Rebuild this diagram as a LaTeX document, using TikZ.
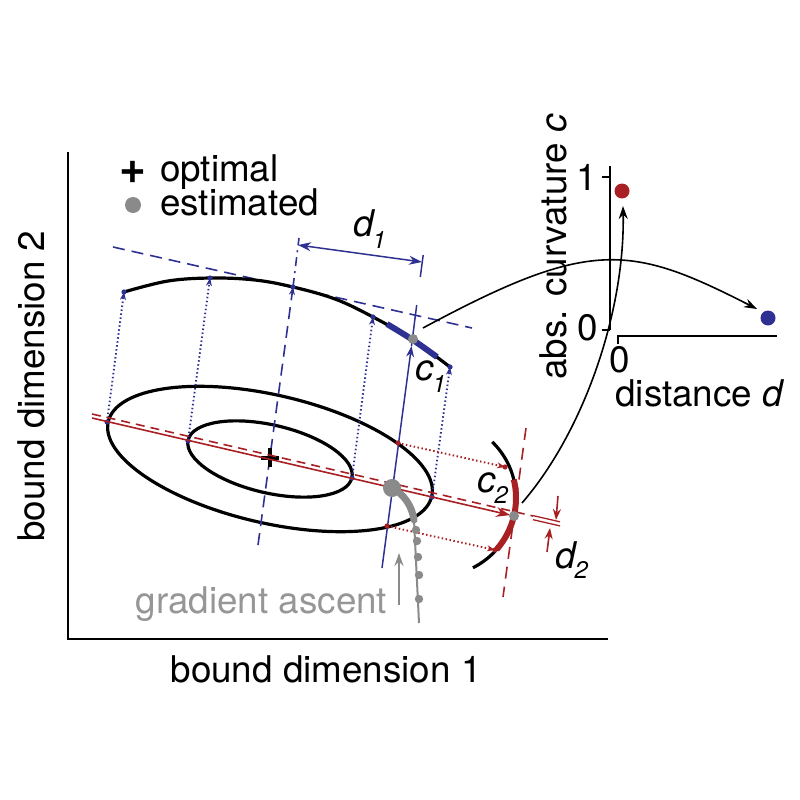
\documentclass[tikz,border=0pt]{standalone}
\usepackage{fontspec}
\setmainfont{TeX Gyre Heros}
\usetikzlibrary{arrows.meta}
\definecolor{myblue}{RGB}{46,49,146}
\definecolor{myred}{RGB}{168,32,36}
\definecolor{mygray}{RGB}{138,138,138}
\definecolor{txtgray}{RGB}{150,150,150}
\begin{document}
\begin{tikzpicture}[x=1pt,y=-1pt,
  lbl/.style={font=\fontsize{36.8}{40}\selectfont, inner sep=0pt},
  ell/.style={line width=3.2pt},
  axisline/.style={line width=2.2pt},
  bthin/.style={myblue, line width=1.5pt},
  bdotted/.style={myblue, line width=1.9pt, dash pattern=on 1.5pt off 2.5pt},
  rdotted/.style={myred, line width=1.9pt, dash pattern=on 1.5pt off 2.5pt},
  bdashed/.style={myblue, line width=1.6pt, dash pattern=on 12pt off 7pt},
  rdashed/.style={myred, line width=1.6pt, dash pattern=on 9pt off 6pt},
  smalltip/.style={-{Stealth[length=8pt,width=6pt]}},
  medtip/.style={-{Stealth[length=11pt,width=8pt]}},
]
\useasboundingbox (0,0) rectangle (800,800);

% ---------- axes ----------
\coordinate (axTop) at (68,152);
\coordinate (axO) at (68,639);
\coordinate (axR) at (608,639);
\draw[axisline] (axTop) -- (axO) -- (axR);
\node[lbl, anchor=base] (xlab) at (326,682) {bound dimension 1};
\node[lbl, anchor=base, rotate=90] (ylab) at (44,386) {bound dimension 2};

% ---------- legend ----------
\node[inner sep=0pt, font=\fontsize{46}{46}\selectfont\bfseries] (legplus) at (133,172) {+};
\node[lbl, anchor=base west] (legopt) at (160,181) {optimal};
\fill[mygray] (133,205) circle [radius=8];
\node[lbl, anchor=base west] (legest) at (160,215) {estimated};

% ---------- key points ----------
\coordinate (C) at (270,459);
\coordinate (oL) at (107,422);
\coordinate (iL) at (188,441);
\coordinate (iR) at (352,478);
\coordinate (oR) at (432,497);
\coordinate (t1) at (124,292);
\coordinate (t2) at (210,278);
\coordinate (t3) at (293,287);
\coordinate (t4) at (373,317);
\coordinate (t5) at (450,367);
\coordinate (est1) at (413,339);

% ---------- ellipses ----------
\draw[ell, rotate around={-13:(C)}] (C) ellipse [x radius=166, y radius=64];
\draw[ell, rotate around={-13:(C)}] (C) ellipse [x radius=84, y radius=34];

% ---------- top projected curve ----------
\draw[bdashed] (113,247) -- (472,328);
\draw[ell] plot[smooth, tension=0.6] coordinates {(124,292) (168,281) (212,278) (255,280) (293,287) (335,299) (373,317) (413,340) (450,367)};
\draw[myblue, line width=6pt] plot[smooth] coordinates {(387,324) (413,340) (437,357)};

% blue dotted projections
\draw[bdotted, smalltip] (oL) -- (t1);
\draw[bdotted, smalltip] (iL) -- (t2);
\draw[bdotted, smalltip] (iR) -- (t4);
\draw[bdotted, smalltip] (oR) -- (t5);
% centre dashed line
\coordinate (cB) at (258,545);
\coordinate (cT) at (299,238);
\draw[bdashed, smalltip] (cB) -- (t3);
\draw[myblue, line width=1.6pt, dash pattern=on 9pt off 5pt on 2pt off 5pt] (t3) -- (cT);

% centre marker (optimal)
\coordinate (pxL) at (261,458);
\coordinate (pxR) at (279,458);
\coordinate (pyT) at (270,448);
\coordinate (pyB) at (270,467);
\draw[line width=4.5pt] (pxL) -- (pxR);
\draw[line width=4.5pt] (pyT) -- (pyB);

% blue solid line through estimate
\coordinate (bB) at (382,568);
\coordinate (bTip) at (411.5,346);
\coordinate (bTop) at (416.7,305);
\coordinate (tkA) at (420.3,277);
\coordinate (tkB) at (423.2,255);
\draw[bthin, medtip] (bB) -- (bTip);
\draw[bthin] (bTip) -- (bTop);
\draw[bthin] (tkA) -- (tkB);

% d1 arrow
\coordinate (dL) at (298,245);
\coordinate (dR) at (422,262);
\draw[bthin, {Stealth[length=13pt,width=9pt]}-{Stealth[length=13pt,width=9pt]}] (dL) -- (dR);
\node[lbl, anchor=base west, font=\fontsize{36.8}{40}\selectfont\itshape] (d1lab) at (353,236) {d\kern-1pt\raisebox{-12pt}{\fontsize{24}{24}\selectfont 1}};

% blue dots
\foreach \p in {oL,iL,iR,oR,t1,t2,t3,t4,t5}
  \fill[myblue] (\p) circle [radius=2.6];
\fill[mygray] (est1) circle [radius=5];
\node[lbl, anchor=base west, font=\fontsize{36.8}{40}\selectfont\itshape] (c1lab) at (415,380) {c\kern-1pt\raisebox{-12pt}{\fontsize{24}{24}\selectfont 1}};

% ---------- red construction ----------
\coordinate (rS) at (92,418);
\coordinate (rSd) at (92,414);
\coordinate (gd) at (514,516);
\draw[myred, line width=1.6pt, -{Stealth[length=14pt,width=10pt]}, shorten >=4pt] (rS) -- (gd);
\draw[rdashed] (rSd) -- (533,516);
\coordinate (dbA1) at (533,515.6);
\coordinate (dbA2) at (560,521.8);
\coordinate (dbB1) at (533,519.7);
\coordinate (dbB2) at (560,525.9);
\draw[myred, line width=1.3pt] (dbA1) -- (dbA2);
\draw[myred, line width=1.3pt] (dbB1) -- (dbB2);

% red dotted projections
\coordinate (p1) at (398,443);
\coordinate (p2) at (387,526);
\coordinate (q1) at (505,467);
\coordinate (q2) at (495,550);
\draw[rdotted, smalltip] (p1) -- (q1);
\draw[rdotted, smalltip] (p2) -- (q2);

% right arc
\draw[ell] plot[domain=-46:63.4, samples=60] ({438+78*cos(\x)},{498+78*sin(\x)});
\draw[myred, line width=6pt] plot[domain=-13.7:41.3, samples=40] ({438+78*cos(\x)},{498+78*sin(\x)});
\foreach \p in {p1,p2,q1,q2}
  \fill[myred] (\p) circle [radius=2.6];
\coordinate (rdT) at (526,428);
\coordinate (rdB) at (503,597);
\draw[myred, line width=1.6pt, dash pattern=on 12pt off 8pt] (rdT) -- (rdB);
\fill[mygray] (gd) circle [radius=5];
\node[lbl, anchor=base west, font=\fontsize{36.8}{40}\selectfont\itshape] (c2lab) at (477,492) {c\kern-1pt\raisebox{-11pt}{\fontsize{24}{24}\selectfont 2}};

% d2 arrows
\coordinate (d2a) at (558,496);
\coordinate (d2at) at (556,520);
\coordinate (d2b) at (547,552);
\coordinate (d2bt) at (550,528);
\draw[myred, line width=1.6pt, medtip] (d2a) -- (d2at);
\draw[myred, line width=1.6pt, medtip] (d2b) -- (d2bt);
\node[lbl, anchor=base west, font=\fontsize{36.8}{40}\selectfont\itshape] (d2lab) at (555,568) {d\kern-1pt\raisebox{-10pt}{\fontsize{24}{24}\selectfont 2}};

% ---------- gradient ascent ----------
\coordinate (gS) at (414,520);
\coordinate (gE) at (419,623);
\draw[mygray, line width=2pt] (gS) -- (gE);
\draw[mygray, line width=7pt, line cap=round] (392,488) .. controls (404,494) and (412,506) .. (gS);
\fill[mygray] (392,488) circle [radius=9];
\foreach \yy/\xx in {530/416,541/417,557/418,575/419,599/419}
  \fill[mygray] (\xx,\yy) circle [radius=4.2];
\coordinate (gaB) at (399,605);
\coordinate (gaT) at (399,553);
\draw[mygray, line width=2pt, -{Stealth[length=13pt,width=9pt]}] (gaB) -- (gaT);
\node[lbl, anchor=base, text=txtgray] (galab) at (261.5,613) {gradient ascent};

% ---------- inset ----------
\coordinate (iyT) at (610,166);
\coordinate (iyB) at (610,330);
\draw[axisline] (iyT) -- (iyB);
\draw[axisline] (602,177) -- (610,177);
\draw[axisline] (602,330) -- (610,330);
\draw[axisline] (618,344) -- (618,336) -- (777,336);
\node[lbl, anchor=base] (one) at (587,190) {1};
\node[lbl, anchor=base] (zeroy) at (588,340) {0};
\node[lbl, anchor=base] (zerox) at (620,372) {0};
\node[lbl, anchor=base] (distlab) at (700,406) {distance \textit{d}};
\node[lbl, anchor=base, rotate=90] (curvlab) at (566,247) {abs. curvature \textit{c}};
\coordinate (redpt) at (622,191);
\coordinate (bluept) at (768,318);
\fill[myred] (redpt) circle [radius=7.5];
\fill[myblue] (bluept) circle [radius=7.5];

% curved black arrows
\coordinate (aS) at (423,328);
\coordinate (aE) at (757,309);
\draw[line width=1.6pt, -{Stealth[length=13pt,width=9pt]}] (aS) .. controls (590,238) and (630,244) .. (aE);
\coordinate (bS) at (522,503);
\coordinate (bE) at (623,206);
\draw[line width=1.6pt, -{Stealth[length=13pt,width=9pt]}] (bS) .. controls (585,430) and (625,310) .. (bE);
\end{tikzpicture}
\end{document}
